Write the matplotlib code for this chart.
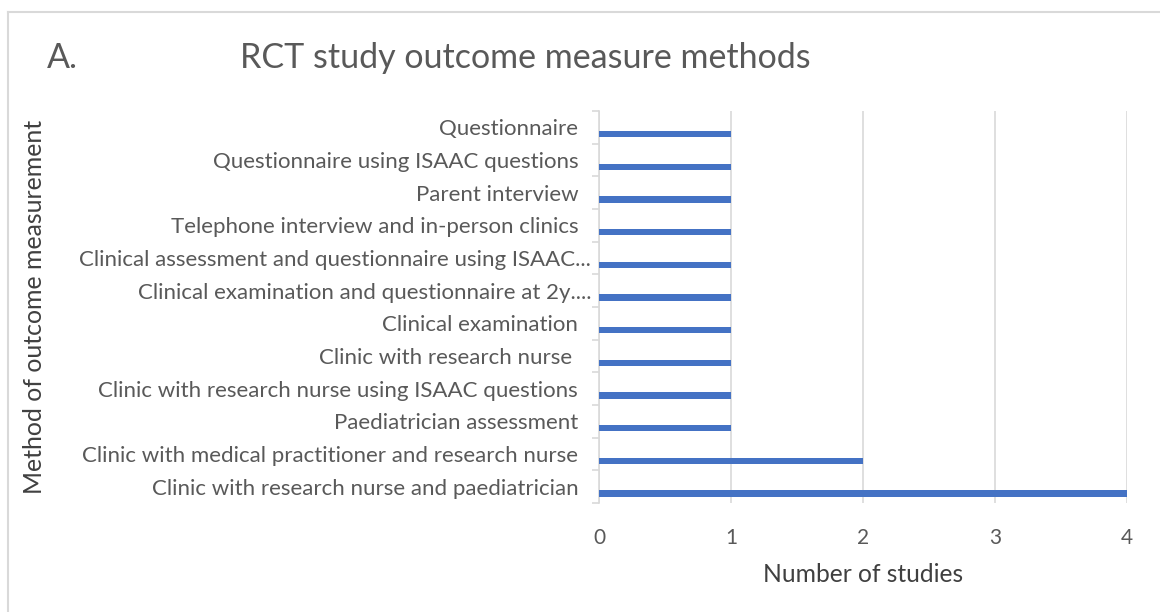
import matplotlib
matplotlib.use('Agg')
import matplotlib.pyplot as plt
from matplotlib.lines import Line2D
from matplotlib.transforms import ScaledTranslation

# ── Data ───────────────────────────────────────────────────────────────────────

methods = [
    'Questionnaire',
    'Questionnaire using ISAAC questions',
    'Parent interview',
    'Telephone interview and in-person clinics',
    'Clinical assessment and questionnaire using ISAAC...',
    'Clinical examination and questionnaire at 2y....',
    'Clinical examination',
    'Clinic with research nurse ',
    'Clinic with research nurse using ISAAC questions',
    'Paediatrician assessment',
    'Clinic with medical practitioner and research nurse',
    'Clinic with research nurse and paediatrician',
]
n_studies = [1, 1, 1, 1, 1, 1, 1, 1, 1, 1, 2, 4]
x_ticks = [0, 1, 2, 3, 4]

# ── Style ──────────────────────────────────────────────────────────────────────

BAR = '#4472C4'
GRID = '#d9d9d9'
TXT = '#595959'
plt.rcParams['font.family'] = ['Lato', 'DejaVu Sans']

W, H = 1160, 612
fig = plt.figure(figsize=(W / 100, H / 100), dpi=100)
ax = fig.add_axes([599 / W, 1 - 503 / H, 528 / W, (503 - 111) / H])

ypos = list(range(len(methods)))
ax.barh([y + 0.21 for y in ypos], n_studies, height=0.2, color=BAR, zorder=3)

ax.set_xlim(0, 4)
ax.set_ylim(len(methods) - 0.5, -0.5)

ax.set_xticks(x_ticks)
ax.set_xticklabels([str(t) for t in x_ticks])
ax.tick_params(axis='x', length=0, pad=18, labelsize=15, labelcolor=TXT)
ax.grid(axis='x', color=GRID, lw=1.2, zorder=0)

ax.set_yticks(ypos)
ax.set_yticklabels(methods)
ax.tick_params(axis='y', which='major', length=0, pad=15, labelsize=16,
               labelcolor=TXT)
ax.set_yticks([y - 0.5 for y in range(len(methods) + 1)], minor=True)
ax.tick_params(axis='y', which='minor', length=5, width=1.2, color=GRID,
               direction='out')

# truncated labels sit a little further right, like in Excel
for lab in ax.get_yticklabels():
    if lab.get_text().endswith('...'):
        lab.set_transform(lab.get_transform() +
                          ScaledTranslation(0.13, 0, fig.dpi_scale_trans))

for s in ['top', 'right', 'bottom']:
    ax.spines[s].set_visible(False)
ax.spines['left'].set_color(GRID)
ax.spines['left'].set_linewidth(1.2)

fig.text(863 / W, 1 - 574 / H, 'Number of studies', ha='center', va='center',
         fontsize=17.7, color='#404040')
fig.text(35 / W, 1 - 307 / H, 'Method of outcome measurement', rotation=90,
         ha='center', va='center', fontsize=17.9, color='#404040')
fig.text(47 / W, 1 - 58 / H, 'A.', ha='left', va='center', fontsize=24.5,
         color=TXT)
fig.text(240 / W, 1 - 58 / H, 'RCT study outcome measure methods', ha='left',
         va='center', fontsize=24.5, color=TXT)

# chart-area border
fig.add_artist(Line2D([8 / W, 1], [1 - 12 / H, 1 - 12 / H], color=GRID, lw=1.5))
fig.add_artist(Line2D([8 / W, 8 / W], [0, 1 - 12 / H], color=GRID, lw=1.5))

fig.savefig('out.png', dpi=100)
